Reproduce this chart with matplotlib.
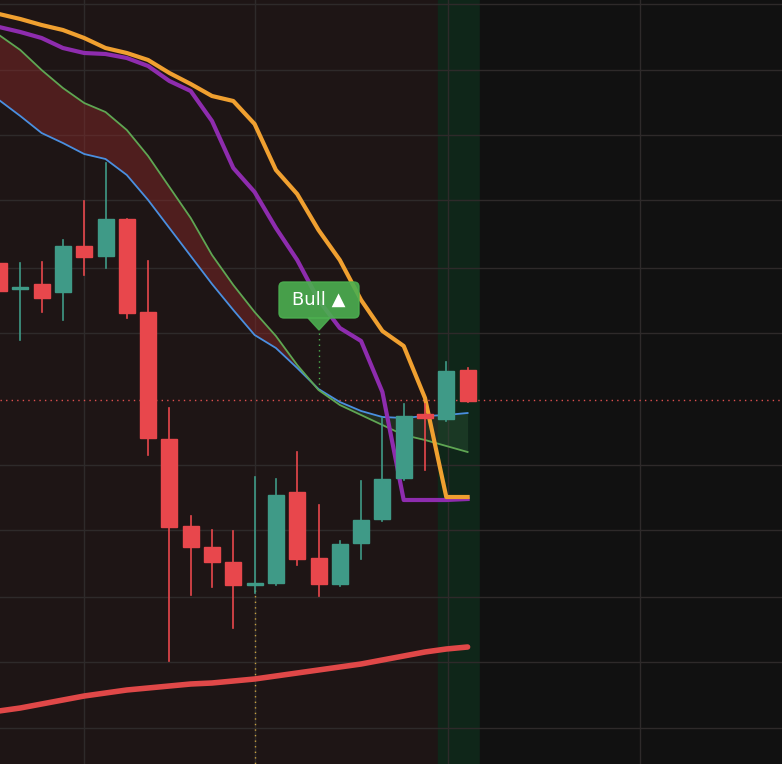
import matplotlib.pyplot as plt
from matplotlib.patches import Rectangle, FancyBboxPatch, Polygon
import numpy as np

# candle data (price axis in chart units, larger = lower on screen)
opens  = [263, 287, 284, 292, 246, 256, 219, 312, 439, 526, 547, 562, 583, 583, 492, 558, 584, 543, 519, 478, 414, 419, 370]
closes = [291, 287, 298, 246, 257, 219, 313, 438, 527, 547, 562, 585, 583, 495, 559, 584, 544, 520, 479, 416, 418, 371, 401]
highs  = [263, 263, 262, 240, 201, 163, 219, 261, 408, 516, 530, 531, 477, 479, 452, 505, 541, 481, 418, 404, 404, 362, 368]
lows   = [291, 340, 312, 320, 275, 268, 318, 455, 661, 595, 587, 628, 593, 585, 565, 596, 586, 559, 521, 480, 470, 421, 402]

orange = [14, 19, 25, 30, 38, 48, 53, 60, 73, 84, 96, 101, 124, 170, 194, 230, 260, 300, 331, 346, 398, 497, 497]
purple = [27, 32, 38, 48, 53, 54, 58, 66, 81, 91, 121, 168, 192, 228, 260, 300, 328, 341, 392, 500, 500, 500, 499]
green  = [35, 50, 70, 88, 103, 112, 130, 156, 187, 218, 255, 285, 312, 336, 365, 390, 405, 415, 425, 435, 440, 446, 452]
blue   = [100, 116, 133, 143, 154, 159, 175, 200, 228, 256, 284, 310, 335, 348, 368, 389, 402, 411, 417, 418, 416, 415, 413]
slow   = [711, 708, 704, 700, 696, 693, 690, 688, 686, 684, 683, 681, 679, 676, 673, 670, 667, 664, 660, 656, 652, 649, 647]

x = np.arange(len(opens)) * 21.3 - 1

fig = plt.figure(figsize=(7.82, 7.64), dpi=100)
fig.patch.set_facecolor('#111111')
ax = fig.add_axes([0, 0, 1, 1])
ax.set_xlim(0, 782)
ax.set_ylim(764, 0)
ax.axis('off')

ax.add_patch(Rectangle((0, 0), 438, 764, color='#1e1515', zorder=0))
ax.add_patch(Rectangle((438, 0), 42, 764, color='#0f2619', zorder=0))
ax.add_patch(Rectangle((480, 0), 302, 764, color='#111111', zorder=0))

for gx in [84, 255, 448, 640]:
    ax.axvline(gx, color='#2e2a2a', lw=1, zorder=1)
for gy in [4, 70, 135, 200, 268, 333, 465, 530, 597, 662, 728]:
    ax.axhline(gy, color='#2e2a2a', lw=1, zorder=1)

g = np.array(green); b = np.array(blue)
ax.fill_between(x, g, b, where=g < b, interpolate=True, color='#8b2a2a', alpha=0.45, lw=0, zorder=2)
ax.fill_between(x, g, b, where=g > b, interpolate=True, color='#2f5a3a', alpha=0.35, lw=0, zorder=2)

ax.axhline(400, color='#e05050', lw=1, ls=(0, (1, 3)), zorder=2)
ax.plot([255, 255], [590, 764], color='#c8a040', lw=1, ls=(0, (1, 3)), zorder=2)
ax.plot([319, 319], [333, 390], color='#4caf50', lw=1, ls=(0, (1, 3)), zorder=2)

ax.plot(x, blue, color='#4a8fe0', lw=1.3, zorder=3)
ax.plot(x, green, color='#5fa653', lw=1.3, zorder=3)
ax.plot(x, purple, color='#8e2cae', lw=3, zorder=4)
ax.plot(x, orange, color='#f0a030', lw=3, zorder=4)
ax.plot(x, slow, color='#e04848', lw=4, zorder=4, solid_capstyle='round')

for xi, o, c, h, l in zip(x, opens, closes, highs, lows):
    col = '#3f9a87' if c <= o else '#e8474c'
    ax.plot([xi, xi], [h, l], color=col, lw=1.2, zorder=5)
    top, bot = min(o, c), max(o, c)
    hgt = max(bot - top, 1.5)
    ax.add_patch(Rectangle((xi - 8, top), 16, hgt, color=col, zorder=6))

ax.add_patch(FancyBboxPatch((279, 282), 80, 36, boxstyle='round,pad=0,rounding_size=5',
                            color='#4caf50', alpha=0.9, zorder=7))
ax.add_patch(Polygon([[308, 318], [330, 318], [319, 330]], color='#4caf50', alpha=0.9, zorder=7))
ax.text(319, 300, 'Bull ▲', color='white', fontsize=13, ha='center', va='center', zorder=8)

fig.savefig('out.png', dpi=100, facecolor=fig.get_facecolor())
